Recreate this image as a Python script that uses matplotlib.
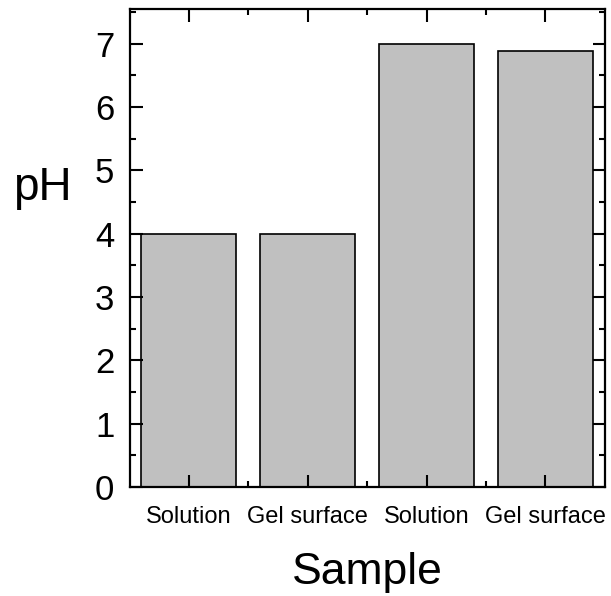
import matplotlib
matplotlib.use("Agg")
import matplotlib.pyplot as plt
from matplotlib.ticker import MultipleLocator, FixedLocator

# --- data ---------------------------------------------------------------
categories = ["Solution", "Gel surface", "Solution", "Gel surface"]
ph_values = [4.0, 4.0, 7.0, 6.88]

plt.rcParams["font.family"] = ["Liberation Sans", "DejaVu Sans"]

fig = plt.figure(figsize=(6.11, 5.96), dpi=100)
ax = fig.add_axes([0.212, 0.183, 0.778, 0.802])

x = list(range(1, len(categories) + 1))
ax.bar(x, ph_values, width=0.8, color="#C0C0C0", edgecolor="black", linewidth=1.2)

ax.set_xlim(0.5, 4.5)
ax.set_ylim(0, 7.55)

ax.xaxis.set_major_locator(FixedLocator(x))
ax.xaxis.set_minor_locator(FixedLocator([1.5, 2.5, 3.5]))
ax.set_xticklabels(categories, fontsize=17)
ax.yaxis.set_major_locator(MultipleLocator(1))
ax.yaxis.set_minor_locator(MultipleLocator(0.5))
ax.tick_params(axis="y", labelsize=25)

# Origin-style inward ticks on all four sides
ax.tick_params(which="both", direction="in", top=True, right=True, width=1.5)
ax.tick_params(which="major", length=9)
ax.tick_params(which="minor", length=4.5)
ax.tick_params(axis="y", which="major", pad=11)
ax.tick_params(axis="x", which="major", pad=14)

for sp in ax.spines.values():
    sp.set_linewidth(1.6)

ax.set_ylabel("pH", fontsize=33, rotation=0, ha="center", va="center")
ax.yaxis.set_label_coords(-0.184, 0.626)
ax.set_xlabel("Sample", fontsize=32, va="center")
ax.xaxis.set_label_coords(0.5, -0.178)

fig.savefig("out.png", dpi=100)
